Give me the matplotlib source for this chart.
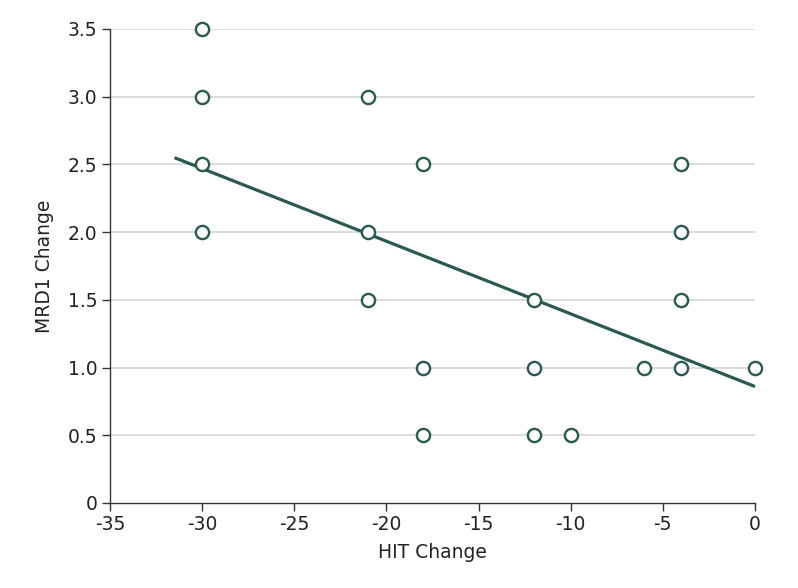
import matplotlib
matplotlib.use("Agg")
import matplotlib.pyplot as plt

hit_change = [-30, -30, -30, -30, -21, -21, -21, -18, -18, -18,
              -12, -12, -12, -10, -6, -4, -4, -4, -4, 0]
mrd1_change = [3.5, 3.0, 2.5, 2.0, 3.0, 2.0, 1.5, 2.5, 1.0, 0.5,
               1.5, 1.0, 0.5, 0.5, 1.0, 2.5, 2.0, 1.5, 1.0, 1.0]
fit_x = [-31.5, 0]
fit_y = [2.55, 0.86]
x_ticks = [-35, -30, -25, -20, -15, -10, -5, 0]
y_ticks = [0, 0.5, 1.0, 1.5, 2.0, 2.5, 3.0, 3.5]
y_tick_labels = ["0", "0.5", "1.0", "1.5", "2.0", "2.5", "3.0", "3.5"]

plt.rcParams['font.family'] = ['DejaVu Sans']

teal = "#2b5850"
fig = plt.figure(figsize=(7.98, 5.88), dpi=100)
ax = fig.add_axes([110/798, 85/588, 645/798, 474/588])

ax.set_xlim(-35, 0)
ax.set_ylim(0, 3.5)
for y in y_ticks[1:]:
    ax.axhline(y, color="#d9d9d9", lw=1.3, zorder=0)

ax.plot(fit_x, fit_y, color=teal, lw=2.3, zorder=2, clip_on=False, solid_capstyle='butt')
ax.plot(hit_change, mrd1_change, linestyle='none', marker='o', markersize=9.5,
        markerfacecolor='white', markeredgecolor=teal, markeredgewidth=1.7,
        zorder=3, clip_on=False)

ax.set_xticks(x_ticks)
ax.set_xticklabels([str(t) for t in x_ticks])
ax.set_yticks(y_ticks)
ax.set_yticklabels(y_tick_labels)
for s in ["top", "right"]:
    ax.spines[s].set_visible(False)
for s in ["left", "bottom"]:
    ax.spines[s].set_color("#333333")
    ax.spines[s].set_linewidth(1.0)
ax.tick_params(axis='both', direction='out', length=6, width=1.0, color="#333333",
               labelsize=13.5, labelcolor="#222222", pad=3)
ax.set_xlabel("HIT Change", fontsize=13.5, color="#222222", labelpad=6)
ax.set_ylabel("MRD1 Change", fontsize=13.5, color="#222222", labelpad=10)

fig.savefig("out.png", dpi=100)
